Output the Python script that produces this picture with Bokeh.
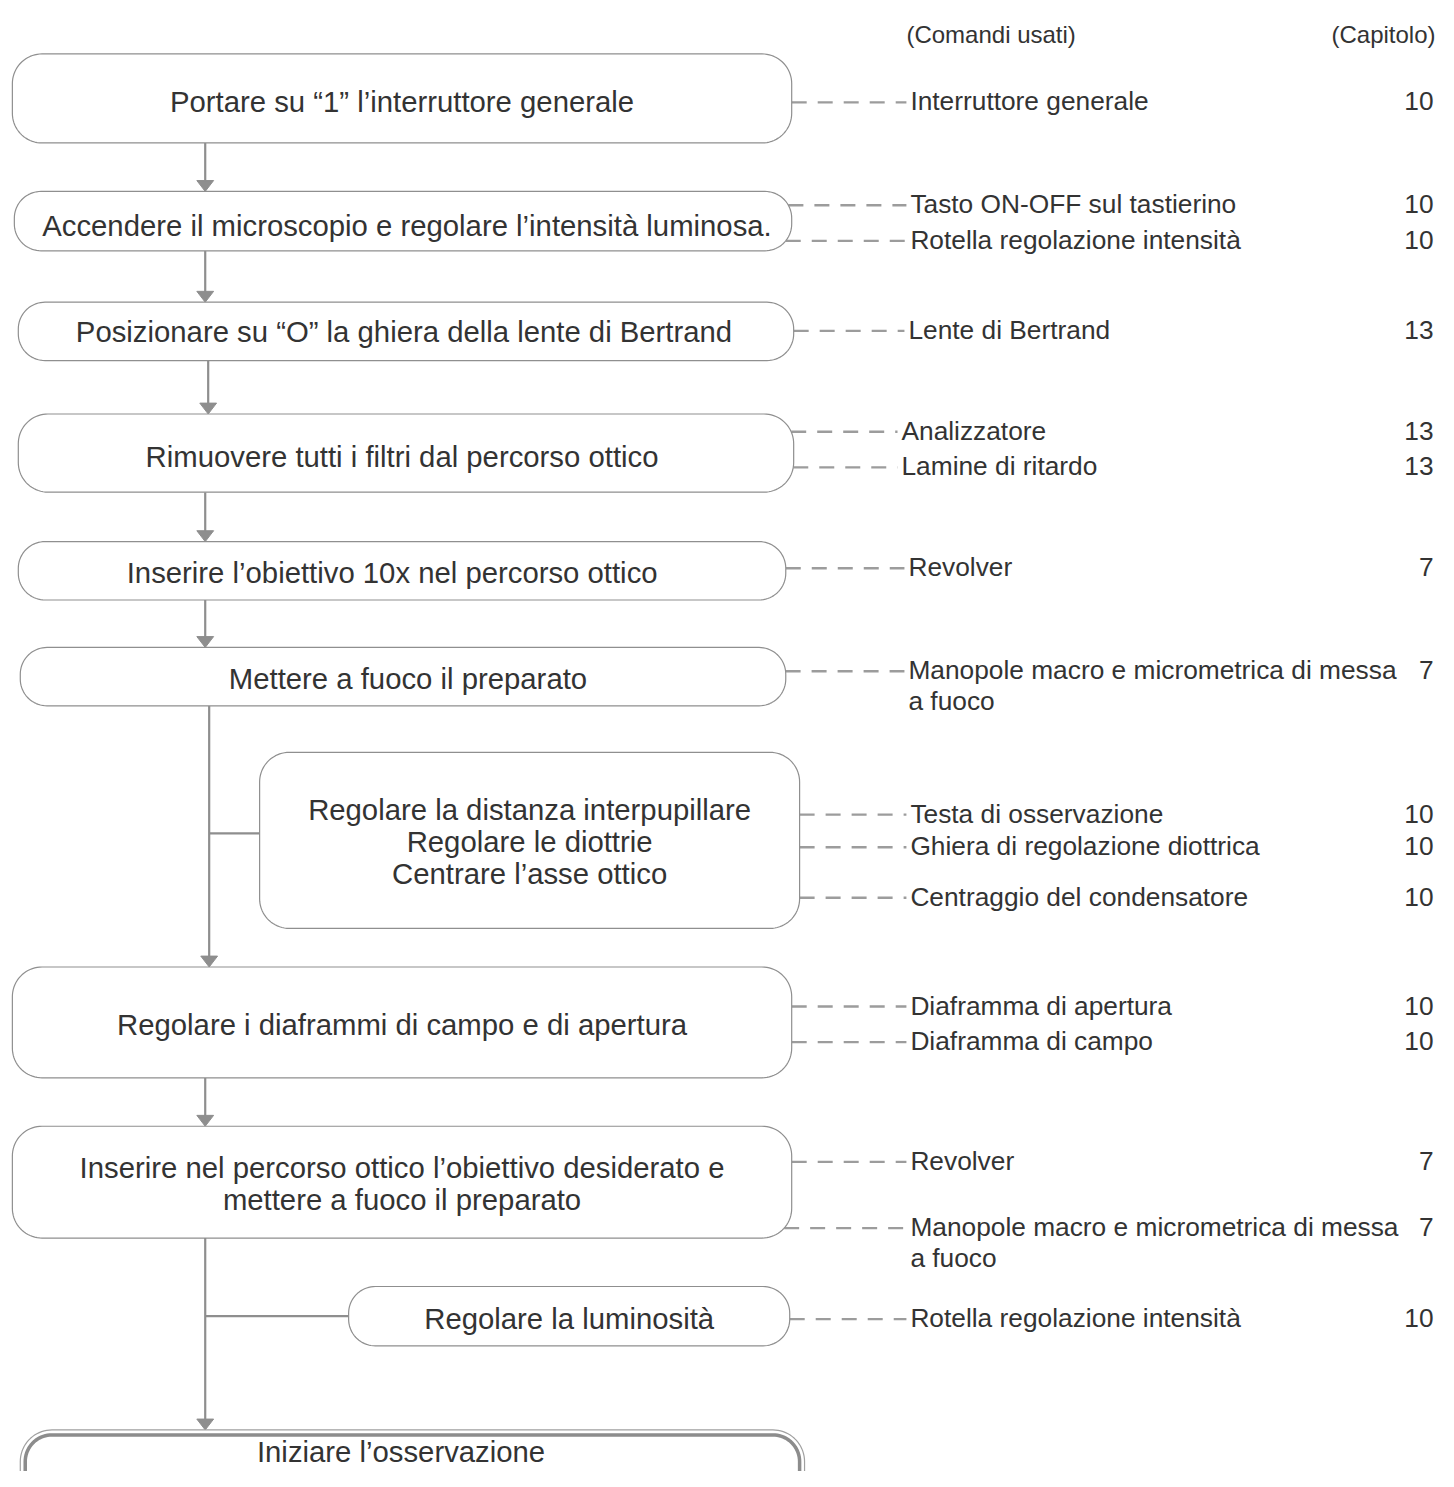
import numpy as np
from bokeh.plotting import figure
from bokeh.models import Range1d, ColumnDataSource
from bokeh.core.properties import value
from bokeh.embed import file_html
from bokeh.resources import INLINE

# ---------------- data ----------------
header_labels = ["(Comandi usati)", "(Capitolo)"]

step_labels = [
    "Portare su “1” l’interruttore generale",
    "Accendere il microscopio e regolare l’intensità luminosa.",
    "Posizionare su “O” la ghiera della lente di Bertrand",
    "Rimuovere tutti i filtri dal percorso ottico",
    "Inserire l’obiettivo 10x nel percorso ottico",
    "Mettere a fuoco il preparato",
    "Regolare la distanza interpupillare\nRegolare le diottrie\nCentrare l’asse ottico",
    "Regolare i diaframmi di campo e di apertura",
    "Inserire nel percorso ottico l’obiettivo desiderato e\nmettere a fuoco il preparato",
    "Regolare la luminosità",
    "Iniziare l’osservazione",
]

command_labels = [
    "Interruttore generale",
    "Tasto ON-OFF sul tastierino",
    "Rotella regolazione intensità",
    "Lente di Bertrand",
    "Analizzatore",
    "Lamine di ritardo",
    "Revolver",
    "Manopole macro e micrometrica di messa\na fuoco",
    "Testa di osservazione",
    "Ghiera di regolazione diottrica",
    "Centraggio del condensatore",
    "Diaframma di apertura",
    "Diaframma di campo",
    "Revolver",
    "Manopole macro e micrometrica di messa\na fuoco",
    "Rotella regolazione intensità",
]
command_chapters = ["10", "10", "10", "13", "13", "13", "7", "7",
                    "10", "10", "10", "10", "10", "7", "7", "10"]
command_step = [0, 1, 1, 2, 3, 3, 4, 5, 6, 6, 6, 7, 7, 8, 8, 9]

# flow: main trunk edges (from step, to step) and side branches (trunk edge, side step)
trunk_edges = [(0, 1), (1, 2), (2, 3), (3, 4), (4, 5), (5, 7), (7, 8), (8, 10)]
side_branches = [((5, 7), 6), ((8, 10), 9)]

# ---------------- layout (reference pixel space, y down) ----------------
W_REF, H_REF = 1454, 1487
W, H = 1438, 1471
k = W / W_REF

# box geometry: x0, x1, y0, y1, corner radius
box_geom = [
    (12, 800, 54, 144, 30),
    (14, 800, 193, 253, 27),
    (18, 802, 305, 364, 27),
    (18, 802, 418, 497, 30),
    (18, 794, 547, 606, 27),
    (20, 794, 654, 713, 27),
    (262, 808, 760, 938, 30),
    (12, 800, 977, 1089, 30),
    (12, 800, 1138, 1251, 30),
    (352, 798, 1300, 1360, 27),
    (20, 813, 1445, 1560, 32),
]
step_text_x = [406, 411, 408, 406, 396, 412, 535, 406, 406, 575, 405]
step_text_y = [102, 227, 335, 461, 578, 685, 818, 1035, 1180, 1332, 1467]
trunk_x = [207, 207, 210, 207, 207, 211, 207, 207]
branch_y = [842, 1330]

cmd_x = [920, 920, 920, 918, 911, 911, 918, 918, 920, 920, 920, 920, 920, 920, 920, 920]
cmd_y = [102, 206, 242, 333, 435, 471, 573, 677, 822, 855, 906, 1016, 1052, 1173, 1240, 1332]
chapter_x = 1449

MAIN_FS = 29.6
CMD_FS = 26.6
HDR_FS = 24.3
MAIN_LH = 32.5
CMD_LH = 31

GRAY_LINE = "#8e8e8e"
BOX_LINE = "#8f8f8f"
TEXT_C = "#333333"
FONT = "Liberation Sans"


def fs(px):
    return f"{px * k:.1f}px"


def rounded(x0, x1, y0, y1, r, n=20):
    ry = min(r, (y1 - y0) / 2)
    rx = r
    xs, ys = [], []
    for cx, cy, a0 in [(x1 - rx, y0 + ry, -90), (x1 - rx, y1 - ry, 0),
                       (x0 + rx, y1 - ry, 90), (x0 + rx, y0 + ry, 180)]:
        t = np.radians(np.linspace(a0, a0 + 90, n))
        xs.extend(cx + rx * np.cos(t))
        ys.extend(cy + ry * np.sin(t))
    return xs, ys


def right_edge(g, y):
    x0, x1, y0, y1, r = g
    ry = min(r, (y1 - y0) / 2)
    rx = r
    if y < y0 + ry:
        d = (y0 + ry - y) / ry
    elif y > y1 - ry:
        d = (y - (y1 - ry)) / ry
    else:
        return x1
    d = min(d, 1.0)
    return x1 - rx + rx * np.sqrt(1 - d * d)


p = figure(width=W, height=H, x_range=Range1d(0, W_REF), y_range=Range1d(H_REF, 0),
           output_backend="svg", toolbar_location=None, min_border=0)
p.axis.visible = False
p.grid.visible = False
p.outline_line_color = None
p.background_fill_color = "white"

# ---- trunk lines & arrows ----
HEAD_W, HEAD_H = 8.5, 11
seg = dict(x0=[], y0=[], x1=[], y1=[])
hx, hy = [], []
for (a, b), tx in zip(trunk_edges, trunk_x):
    ya = box_geom[a][3]
    yb = box_geom[b][2]
    seg["x0"].append(tx); seg["y0"].append(ya)
    seg["x1"].append(tx); seg["y1"].append(yb - HEAD_H + 1)
    hx.append([tx - HEAD_W, tx + HEAD_W, tx])
    hy.append([yb - HEAD_H, yb - HEAD_H, yb])
for (edge, s), by in zip(side_branches, branch_y):
    tx = trunk_x[trunk_edges.index(edge)]
    seg["x0"].append(tx); seg["y0"].append(by)
    seg["x1"].append(box_geom[s][0]); seg["y1"].append(by)
p.segment(x0="x0", y0="y0", x1="x1", y1="y1", source=ColumnDataSource(seg),
          line_color=GRAY_LINE, line_width=2.2)
p.patches(hx, hy, fill_color=GRAY_LINE, line_color=GRAY_LINE, line_width=1)

# ---- dashed connectors ----
dseg = dict(x0=[], y0=[], x1=[], y1=[])
for s, x, y in zip(command_step, cmd_x, cmd_y):
    dseg["x0"].append(right_edge(box_geom[s], y + 1))
    dseg["y0"].append(y + 1)
    dseg["x1"].append(x - 4)
    dseg["y1"].append(y + 1)
p.segment(x0="x0", y0="y0", x1="x1", y1="y1", source=ColumnDataSource(dseg),
          line_color="#9c9c9c", line_width=2.4, line_dash="15 11")

# ---- boxes ----
bxs, bys = [], []
for g in box_geom[:-1]:
    xs, ys = rounded(*g)
    bxs.append(xs); bys.append(ys)
p.patches(bxs, bys, fill_color="white", line_color=BOX_LINE, line_width=1.2)

# final box with double border
gx0, gx1, gy0, gy1, gr = box_geom[-1]
xs, ys = rounded(gx0, gx1, gy0, gy1, gr)
p.patch(xs, ys, fill_color="white", line_color="#a0a0a0", line_width=1.2)
xs, ys = rounded(gx0 + 5, gx1 - 5, gy0 + 5, gy1 - 5, gr - 5)
p.patch(xs, ys, fill_color="white", line_color="#8c8c8c", line_width=3.5)

# ---- step texts ----
tx, ty, tt = [], [], []
for lab, x, y in zip(step_labels, step_text_x, step_text_y):
    for i, line in enumerate(lab.split("\n")):
        tx.append(x); ty.append(y + i * MAIN_LH); tt.append(line)
p.text(x=tx, y=ty, text=tt, text_align="center", text_baseline="middle",
       text_font=value(FONT), text_font_size=fs(MAIN_FS), text_color=TEXT_C)

# ---- command texts ----
cx, cy, ct = [], [], []
for lab, x, y in zip(command_labels, cmd_x, cmd_y):
    for i, line in enumerate(lab.split("\n")):
        cx.append(x); cy.append(y + i * CMD_LH); ct.append(line)
p.text(x=cx, y=cy, text=ct, text_align="left", text_baseline="middle",
       text_font=value(FONT), text_font_size=fs(CMD_FS), text_color=TEXT_C)

p.text(x=[chapter_x] * len(command_chapters), y=cmd_y, text=command_chapters,
       text_align="right", text_baseline="middle",
       text_font=value(FONT), text_font_size=fs(CMD_FS), text_color=TEXT_C)

# ---- headers ----
p.text(x=[916], y=[34], text=[header_labels[0]], text_align="left", text_baseline="middle",
       text_font=value(FONT), text_font_size=fs(HDR_FS), text_color=TEXT_C)
p.text(x=[1451], y=[34], text=[header_labels[1]], text_align="right", text_baseline="middle",
       text_font=value(FONT), text_font_size=fs(HDR_FS), text_color=TEXT_C)

open("out.html", "w").write(file_html(p, INLINE))
